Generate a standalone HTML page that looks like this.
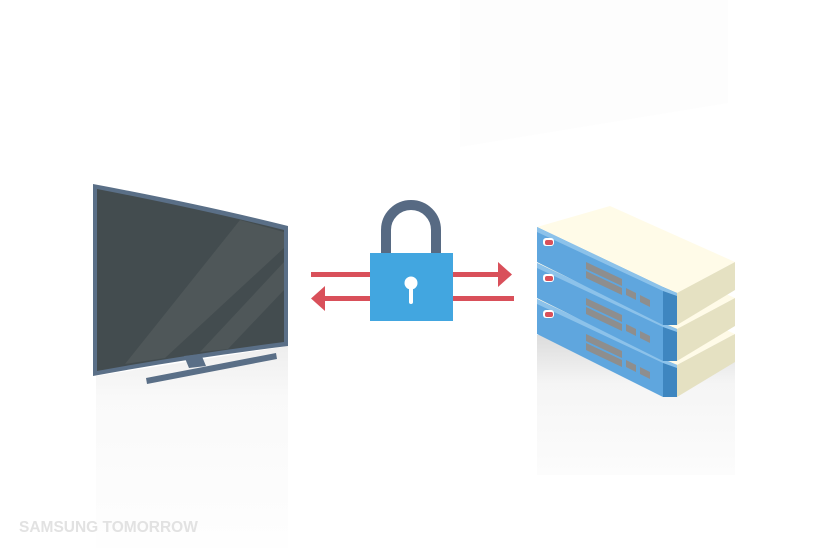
<!DOCTYPE html>
<html><head><meta charset="utf-8"><style>
html,body{margin:0;padding:0;background:#fff;width:828px;height:548px;overflow:hidden}
svg{display:block}
</style></head><body>
<svg width="828" height="548" viewBox="0 0 828 548" xmlns="http://www.w3.org/2000/svg">
<defs>
<linearGradient id="rg" x1="0" y1="0" x2="0" y2="1">
<stop offset="0" stop-color="#dcdcdc"/><stop offset="0.35" stop-color="#f5f5f5"/><stop offset="1" stop-color="#fcfcfc"/>
</linearGradient>
<linearGradient id="tg" x1="0" y1="0" x2="0" y2="1">
<stop offset="0" stop-color="#eeeeee"/><stop offset="0.25" stop-color="#f9f9f9"/><stop offset="1" stop-color="#fefefe"/>
</linearGradient>
</defs>
<polygon points="460,0 728,0 728,103 460,147" fill="#fdfdfd"/>
<rect x="537" y="335" width="198" height="140" fill="url(#rg)"/>
<polygon points="96,376 288,346 288,548 96,548" fill="url(#tg)"/>
<path d="M93,184 Q200,204 288,226 L288,346 Q190,358 93,376 Z" fill="#5a6f87"/>
<path d="M97,189 Q200,209 284,230 L284,342 Q190,354 97,371 Z" fill="#434c4f"/>
<polygon points="240,220 284,232 284,248 165,358 125,364" fill="#4f5759"/>
<polygon points="284,262 284,290 228,349 200,352" fill="#4f5759"/>
<polygon points="184,356 201,354 206,366 189,368" fill="#5a6f87"/>
<polygon points="146,378 276,353 277,359 147,384" fill="#5a6f87"/>
<rect x="311" y="272" width="190" height="5" fill="#d9505a"/>
<polygon points="498,262 512,274.5 498,287" fill="#d9505a"/>
<rect x="324" y="296" width="190" height="5" fill="#d9505a"/>
<polygon points="325,286 311,298.5 325,311" fill="#d9505a"/>
<path d="M386,256 L386,230 A25,25 0 0 1 436,230 L436,256" fill="none" stroke="#576a83" stroke-width="10"/>
<rect x="370" y="253" width="83" height="68" fill="#42a6e0"/>
<circle cx="411" cy="283" r="6.5" fill="#fff"/>
<rect x="409" y="285" width="4" height="19" rx="2" fill="#fff"/>
<g transform="translate(0,72)">
<polygon points="537,227 610,206 735,262 677,293" fill="#fffbe8"/>
<polygon points="677,293 735,262 735,290 677,325" fill="#e5e1c2"/>
<polygon points="537,227 663,287 663,325 537,262" fill="#5fa6de"/>
<polygon points="663,287 677,293 677,325 663,325" fill="#3e86c0"/>
<polygon points="537,227 663,287 677,293 677,296 663,291 537,232" fill="#8cc2ea"/>
<rect x="543" y="238" width="11" height="8" rx="3" fill="#fff"/>
<rect x="545" y="240" width="8" height="5" rx="2" fill="#d9505a"/>
<g fill="#8e8e8e">
<polygon points="586,262 622,279 622,286 586,269"/>
<polygon points="586,271 622,288 622,295 586,278"/>
<polygon points="626,288 636,293 636,300 626,295"/>
<polygon points="640,295 650,300 650,307 640,302"/>
</g>
</g>
<g transform="translate(0,36)">
<polygon points="537,227 610,206 735,262 677,293" fill="#fffbe8"/>
<polygon points="677,293 735,262 735,290 677,325" fill="#e5e1c2"/>
<polygon points="537,227 663,287 663,325 537,262" fill="#5fa6de"/>
<polygon points="663,287 677,293 677,325 663,325" fill="#3e86c0"/>
<polygon points="537,227 663,287 677,293 677,296 663,291 537,232" fill="#8cc2ea"/>
<rect x="543" y="238" width="11" height="8" rx="3" fill="#fff"/>
<rect x="545" y="240" width="8" height="5" rx="2" fill="#d9505a"/>
<g fill="#8e8e8e">
<polygon points="586,262 622,279 622,286 586,269"/>
<polygon points="586,271 622,288 622,295 586,278"/>
<polygon points="626,288 636,293 636,300 626,295"/>
<polygon points="640,295 650,300 650,307 640,302"/>
</g>
</g>
<g>
<polygon points="537,227 610,206 735,262 677,293" fill="#fffbe8"/>
<polygon points="677,293 735,262 735,290 677,325" fill="#e5e1c2"/>
<polygon points="537,227 663,287 663,325 537,262" fill="#5fa6de"/>
<polygon points="663,287 677,293 677,325 663,325" fill="#3e86c0"/>
<polygon points="537,227 663,287 677,293 677,296 663,291 537,232" fill="#8cc2ea"/>
<rect x="543" y="238" width="11" height="8" rx="3" fill="#fff"/>
<rect x="545" y="240" width="8" height="5" rx="2" fill="#d9505a"/>
<g fill="#8e8e8e">
<polygon points="586,262 622,279 622,286 586,269"/>
<polygon points="586,271 622,288 622,295 586,278"/>
<polygon points="626,288 636,293 636,300 626,295"/>
<polygon points="640,295 650,300 650,307 640,302"/>
</g>
</g>
<text x="19" y="532" font-family="Liberation Sans, sans-serif" font-weight="bold" font-size="15.5" fill="#e2e2e2">SAMSUNG TOMORROW</text>
</svg>
</body></html>
